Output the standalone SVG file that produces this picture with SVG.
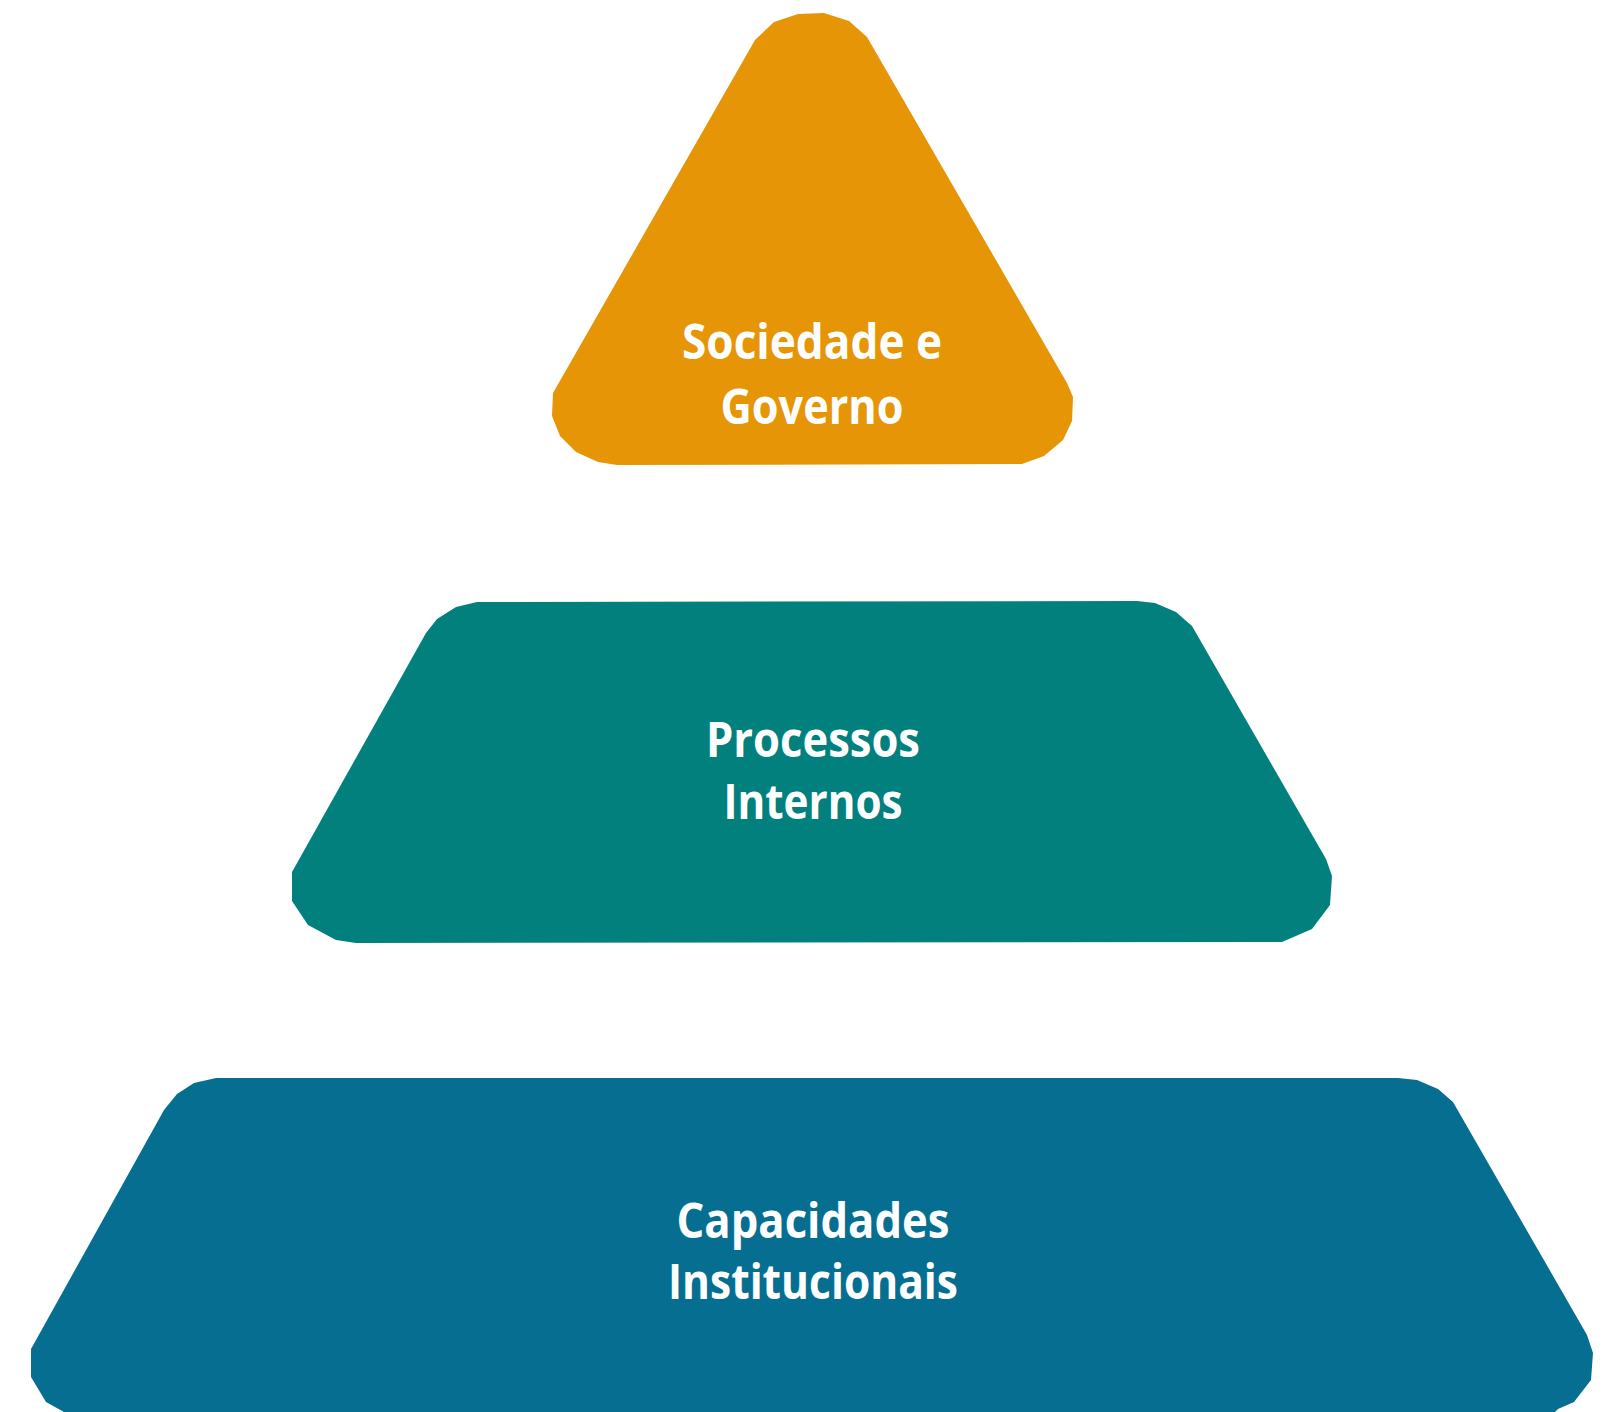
<svg xmlns="http://www.w3.org/2000/svg" width="1602" height="1412" viewBox="0 0 1602 1412">
<style>
.lbl{font-family:"Open Sans","Liberation Sans",sans-serif;font-weight:bold;font-size:48px;fill:#ffffff;text-anchor:middle}
</style>
<rect width="1602" height="1412" fill="#ffffff"/>
<g id="sociedade-governo">
<polygon fill="#E59505" points="798,14 824,13 849,21 867,37 1067,383 1073,397 1072,421 1063,440 1044,456 1022,464 617,465 598,462 576,452 560,436 552,416 553,393 755,40 774,22"/>
<text class="lbl" x="812" y="359" textLength="260" lengthAdjust="spacingAndGlyphs">Sociedade e</text>
<text class="lbl" x="812" y="424" textLength="183" lengthAdjust="spacingAndGlyphs">Governo</text>
</g>
<g id="processos-internos">
<polygon fill="#02807E" points="477,602 1137,601 1155,603 1176,612 1192,626 1326,859 1332,876 1330,905 1312,929 1282,942 356,943 336,940 308,925 292,901 292,872 426,633 437,619 456,607"/>
<text class="lbl" x="813" y="757" textLength="214" lengthAdjust="spacingAndGlyphs">Processos</text>
<text class="lbl" x="813" y="819" textLength="179" lengthAdjust="spacingAndGlyphs">Internos</text>
</g>
<g id="capacidades-institucionais">
<polygon fill="#066E91" points="216,1078 1398,1078 1417,1080 1438,1089 1453,1102 1587,1335 1593,1353 1591,1380 1574,1402 1558,1409 1555,1412 64,1412 46,1402 31,1377 31,1349 164,1110 177,1094 194,1083"/>
<text class="lbl" x="813" y="1238" textLength="273" lengthAdjust="spacingAndGlyphs">Capacidades</text>
<text class="lbl" x="813" y="1299" textLength="290" lengthAdjust="spacingAndGlyphs">Institucionais</text>
</g>
<g id="connectors"></g>
</svg>
